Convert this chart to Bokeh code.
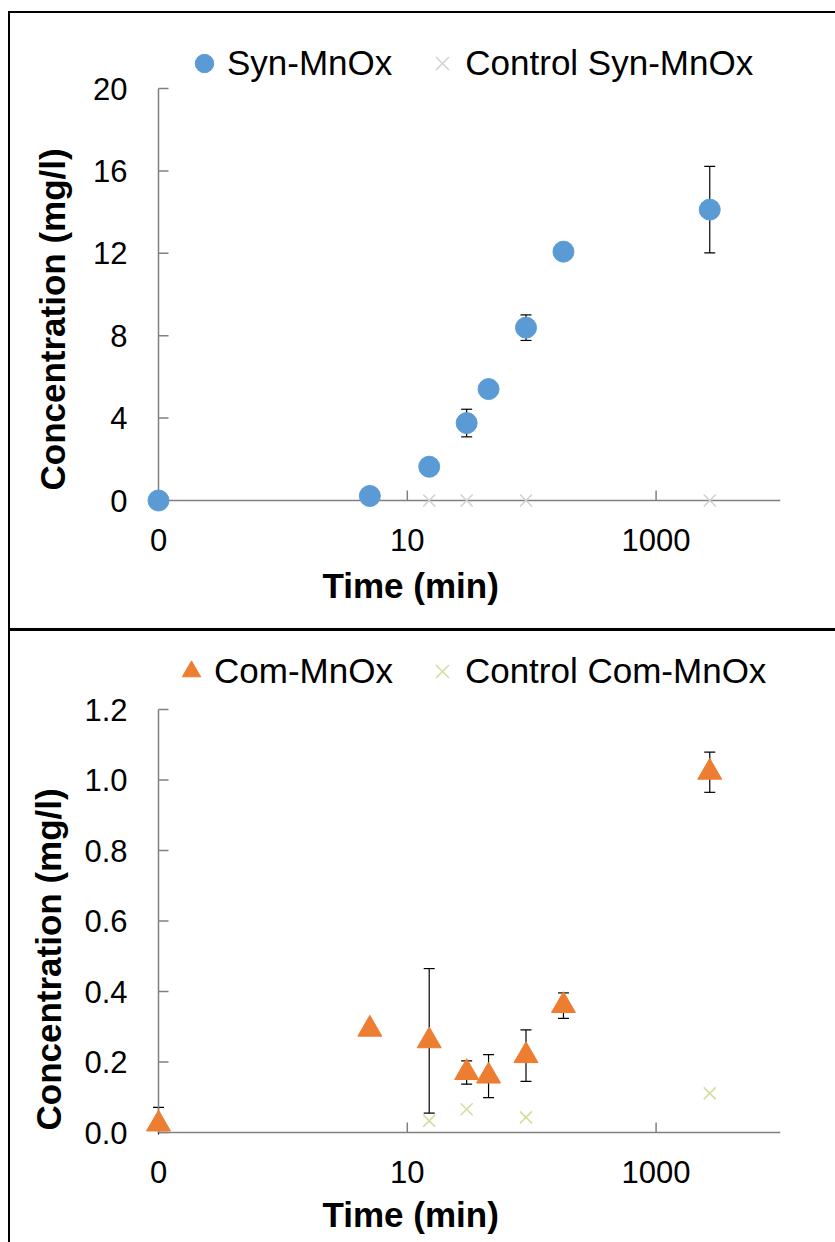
import math
from bokeh.plotting import figure
from bokeh.models import (Range1d, FixedTicker, Legend, LegendItem, Whisker, Title,
                          ColumnDataSource, TeeHead, NumeralTickFormatter, Div, Spacer)
from bokeh.layouts import column, row
from bokeh.embed import file_html
from bokeh.resources import INLINE

# ---------------- data ----------------
time_min = [0.1, 5, 15, 30, 45, 90, 180, 2700]     # 0 min plotted at 0.1 on the log axis
control_time = [15, 30, 90, 2700]

syn_conc = [0.0, 0.22, 1.64, 3.76, 5.41, 8.39, 12.08, 14.12]
syn_err = [0.0, 0.0, 0.0, 0.67, 0.0, 0.62, 0.0, 2.10]
syn_control = [0.0, 0.0, 0.0, 0.0]

com_conc = [0.024, 0.293, 0.26, 0.17, 0.16, 0.218, 0.36, 1.022]
com_err = [0.047, 0.0, 0.205, 0.033, 0.061, 0.073, 0.036, 0.057]
com_control = [0.033, 0.066, 0.043, 0.111]

x_ticks = [0.1, 10, 1000]
x_tick_labels = ["0", "10", "1000"]
syn_y_ticks = [0, 4, 8, 12, 16, 20]
com_y_ticks = [0, 0.2, 0.4, 0.6, 0.8, 1.0, 1.2]

FONT = "Liberation Sans"
AXIS_COLOR = "#808080"
X_MIN, X_MAX = 0.1, 10000
WIDTH = 825
FRAME_LEFT = 134          # frame left edge inside the figure
LEFT_PAD = 14             # px between frame left edge and the y axis line
AXIS_W = 622              # px length of the x axis line
TICK_LEN = 10
TOP_H, BOTTOM_H = 615, 611


def make_panel(height, frame_top, extra_top, axis_h, pad_bottom, ymax, yticks, yfmt,
               main_y, main_err, ctrl_y, main_marker, main_color, main_size,
               ctrl_color, main_label, ctrl_label, legend_loc, legend_spacing,
               xlab_standoff, xtitle_standoff, ylab_standoff, ytitle_standoff, ytitle_offset):
    dec_per_px = math.log10(X_MAX / X_MIN) / AXIS_W
    y_per_px = ymax / axis_h
    x_start = X_MIN * 10 ** (-LEFT_PAD * dec_per_px)
    y_start = -pad_bottom * y_per_px
    y_end = ymax + extra_top * y_per_px
    frame_h = axis_h + pad_bottom + extra_top
    p = figure(width=WIDTH, height=height, x_axis_type="log",
               x_range=Range1d(x_start, X_MAX), y_range=Range1d(y_start, y_end),
               output_backend="svg", toolbar_location=None,
               min_border_left=FRAME_LEFT,
               min_border_right=WIDTH - FRAME_LEFT - LEFT_PAD - AXIS_W,
               min_border_top=frame_top,
               min_border_bottom=height - frame_top - frame_h)
    p.outline_line_color = None
    p.grid.visible = False
    p.background_fill_color = "white"
    p.border_fill_color = "white"

    # side axes carry only the tick labels
    for ax in (p.xaxis[0], p.yaxis[0]):
        ax.axis_line_color = None
        ax.major_tick_line_color = None
        ax.minor_tick_line_color = None
        ax.major_tick_in = 0
        ax.major_tick_out = 0
        ax.major_label_text_font = FONT
        ax.major_label_text_font_size = "31px"
        ax.major_label_text_color = "black"

    xa = p.xaxis[0]
    xa.ticker = FixedTicker(ticks=x_ticks, minor_ticks=[])
    xa.major_label_overrides = {t: l for t, l in zip(x_ticks, x_tick_labels)}
    xa.major_label_standoff = xlab_standoff

    ya = p.yaxis[0]
    ya.ticker = FixedTicker(ticks=yticks, minor_ticks=[])
    ya.formatter = NumeralTickFormatter(format=yfmt)
    ya.major_label_standoff = ylab_standoff

    # axis titles
    p.add_layout(Title(text="Time (min)", align="left", offset=178, standoff=xtitle_standoff,
                       text_font=FONT, text_font_size="35px", text_font_style="bold",
                       text_color="black"), "below")
    p.add_layout(Title(text="Concentration (mg/l)", align="left", offset=ytitle_offset,
                       standoff=ytitle_standoff, text_font=FONT, text_font_size="35px",
                       text_font_style="bold", text_color="black"), "left")

    # axis lines and inside tick marks, at x = 0.1 and y = 0
    p.segment(x0=[X_MIN, X_MIN], y0=[0, 0], x1=[X_MIN, X_MAX], y1=[ymax, 0],
              line_color=AXIS_COLOR, line_width=1.5)
    p.scatter(x=[X_MIN * 10 ** (TICK_LEN / 2 * dec_per_px)] * len(yticks), y=yticks,
              marker="dash", size=TICK_LEN, line_color=AXIS_COLOR, line_width=1.5)
    p.scatter(x=x_ticks[1:], y=[TICK_LEN / 2 * y_per_px] * (len(x_ticks) - 1),
              marker="dash", angle=math.pi / 2, size=TICK_LEN,
              line_color=AXIS_COLOR, line_width=1.5)

    # error bars (under markers)
    lower = [v - e for v, e in zip(main_y, main_err)]
    upper = [v + e for v, e in zip(main_y, main_err)]
    src_err = ColumnDataSource(dict(x=time_min, lower=lower, upper=upper))
    wh = Whisker(source=src_err, base="x", lower="lower", upper="upper",
                 line_color="black", line_width=1.2,
                 upper_head=TeeHead(size=11, line_color="black", line_width=1.2),
                 lower_head=TeeHead(size=11, line_color="black", line_width=1.2),
                 level="underlay")
    p.add_layout(wh)

    r_main = p.scatter(time_min, main_y, marker=main_marker, size=main_size,
                       fill_color=main_color, line_color=main_color)
    r_ctrl = p.scatter(control_time, ctrl_y, marker="x", size=17,
                       line_color=ctrl_color, line_width=1.6)

    legend = Legend(items=[LegendItem(label=main_label, renderers=[r_main]),
                           LegendItem(label=ctrl_label, renderers=[r_ctrl])],
                    orientation="horizontal", location=legend_loc,
                    label_text_font=FONT, label_text_font_size="35px",
                    label_text_color="black", glyph_width=46, glyph_height=46,
                    label_standoff=-10, spacing=legend_spacing, padding=0, margin=0,
                    border_line_color=None, background_fill_alpha=0)
    p.add_layout(legend, "center")
    return p


# top panel: figure at page (10, 13); y=0 at page 500, y=20 at page 88
top = make_panel(height=TOP_H, frame_top=27, extra_top=48, axis_h=412, pad_bottom=12, ymax=20,
                 yticks=syn_y_ticks, yfmt="0",
                 main_y=syn_conc, main_err=syn_err, ctrl_y=syn_control,
                 main_marker="circle", main_color="#5b9bd5", main_size=21,
                 ctrl_color="#d2d2d2", main_label="Syn-MnOx", ctrl_label="Control Syn-MnOx",
                 legend_loc=(37, 426), legend_spacing=27,
                 xlab_standoff=16, xtitle_standoff=21, ylab_standoff=17,
                 ytitle_standoff=38, ytitle_offset=22)

# bottom panel: figure at page (10, 631); y=0 at page 1132, y=1.2 at page 709
bottom = make_panel(height=BOTTOM_H, frame_top=17, extra_top=61, axis_h=423, pad_bottom=2, ymax=1.2,
                    yticks=com_y_ticks, yfmt="0.0",
                    main_y=com_conc, main_err=com_err, ctrl_y=com_control,
                    main_marker="triangle", main_color="#ed7d31", main_size=24,
                    ctrl_color="#d3de9e", main_label="Com-MnOx", ctrl_label="Control Com-MnOx",
                    legend_loc=(24, 440), legend_spacing=26,
                    xlab_standoff=26, xtitle_standoff=14, ylab_standoff=17,
                    ytitle_standoff=27, ytitle_offset=4)


def black(w, h):
    return Div(text="", width=w, height=h, margin=0, styles={"background-color": "black"})


panel_stack = column(black(WIDTH, 2), top, black(WIDTH, 3), bottom, spacing=0)
framed = row(black(2, 2 + TOP_H + 3 + BOTTOM_H), panel_stack, spacing=0)
layout = row(Spacer(width=8, height=10, margin=0),
             column(Spacer(width=10, height=11, margin=0), framed, spacing=0),
             spacing=0)

open("out.html", "w").write(file_html(layout, INLINE))
